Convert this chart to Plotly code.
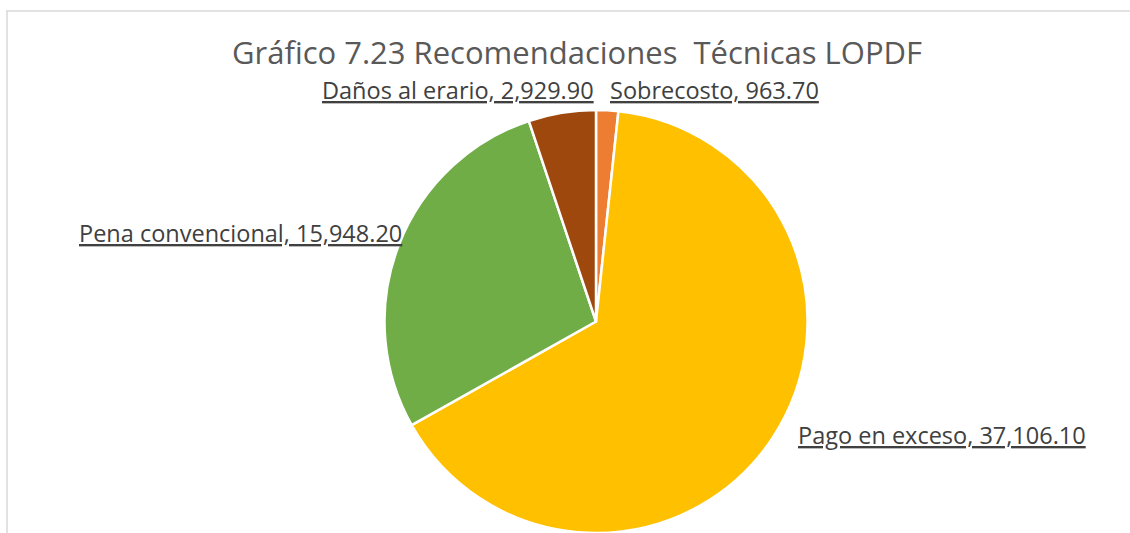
import plotly.graph_objects as go

# Recomendaciones técnicas LOPDF (montos)
categorias = ["Sobrecosto", "Pago en exceso", "Pena convencional", "Daños al erario"]
montos = [963.70, 37106.10, 15948.20, 2929.90]
colores = ["#ED7D31", "#FFC000", "#70AD47", "#9E480E"]
titulo = "Gráfico 7.23 Recomendaciones  Técnicas LOPDF"

W, H = 1130, 533
FUENTE = "Open Sans"

fig = go.Figure(
    go.Pie(
        labels=categorias,
        values=montos,
        sort=False,
        direction="clockwise",
        rotation=0,
        marker=dict(colors=colores, line=dict(color="white", width=2.5)),
        textinfo="none",
        hoverinfo="label+value",
        showlegend=False,
        domain=dict(x=[384 / W, 808 / W], y=[0, 1 - 110 / H]),
    )
)

# etiquetas de datos (categoría, valor) subrayadas
posiciones = {
    "Sobrecosto": (608, 90, "left"),
    "Pago en exceso": (796, 435, "left"),
    "Pena convencional": (77, 233, "left"),
    "Daños al erario": (596, 90, "right"),
}
for cat, val in zip(categorias, montos):
    px, py, anc = posiciones[cat]
    fig.add_annotation(
        x=px / W, y=1 - py / H, xref="paper", yref="paper",
        xanchor=anc, yanchor="middle", showarrow=False,
        text=f"{cat}, {val:,.2f}",
        font=dict(family=FUENTE, size=23.5, color="#404040", lineposition="under"),
    )

# marco del área del gráfico
fig.add_shape(
    type="rect", xref="paper", yref="paper",
    x0=7 / W, x1=1.05, y0=-0.05, y1=1 - 11 / H,
    line=dict(color="#D9D9D9", width=1.5), fillcolor="rgba(0,0,0,0)",
)

fig.update_layout(
    width=W, height=H,
    margin=dict(l=0, r=0, t=0, b=0),
    paper_bgcolor="white", plot_bgcolor="white",
    title=dict(
        text=titulo, x=577 / W, y=1 - 53 / H, xanchor="center", yanchor="middle",
        font=dict(family=FUENTE, size=31, color="#595959"),
    ),
)

fig.write_html("out.html")
